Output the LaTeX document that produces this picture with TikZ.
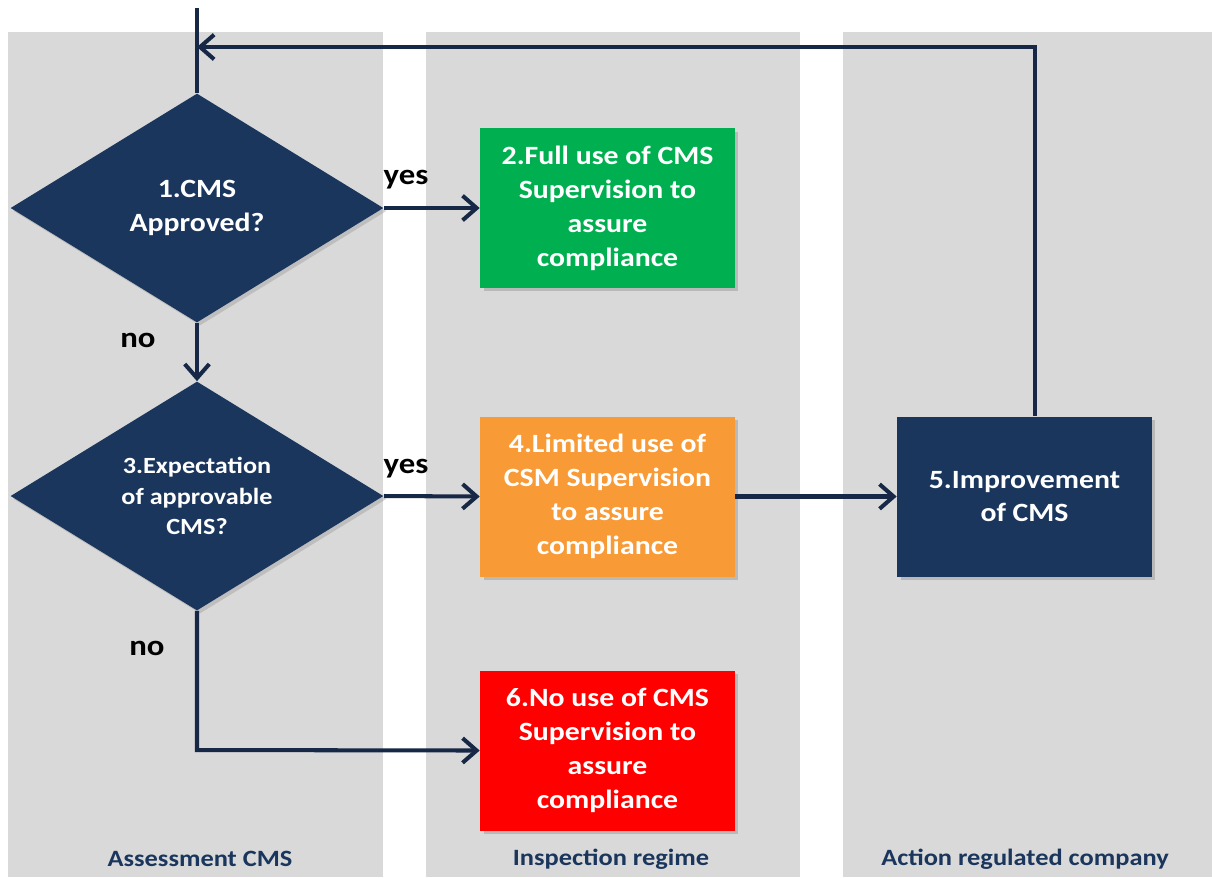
\documentclass[tikz,border=0pt]{standalone}
\usepackage{fontspec}
\setmainfont{Carlito}[FakeStretch=1.13]
\usetikzlibrary{shapes.geometric,arrows.meta,shadows}
\definecolor{navy}{RGB}{26,54,93}
\definecolor{linec}{RGB}{22,40,70}
\definecolor{lanec}{RGB}{217,217,217}
\definecolor{boxgreen}{RGB}{0,176,80}
\definecolor{boxorange}{RGB}{248,154,54}
\definecolor{boxred}{RGB}{255,0,0}
\tikzset{
  lane/.style={fill=lanec,draw=none},
  procbox/.style={draw=none,minimum width=5.1cm,minimum height=3.2cm,inner sep=2pt,
    align=center,text=white,font=\bfseries\fontsize{15}{19.3}\selectfont,
    drop shadow={shadow xshift=0.07cm,shadow yshift=-0.07cm,opacity=0.35}},
  decision/.style={diamond,draw=none,fill=navy,inner sep=0pt,minimum width=7.46cm,
    minimum height=4.58cm,align=center,text=white,
    drop shadow={shadow xshift=0.06cm,shadow yshift=-0.06cm,opacity=0.3}},
  conn/.style={draw=linec,line width=2.3pt,-{Straight Barb[length=8pt,width=14pt,line width=2.3pt]}},
  plainconn/.style={draw=linec,line width=2.3pt},
  lbl/.style={font=\bfseries\fontsize{16.5}{19}\selectfont,text=black},
  lanelbl/.style={font=\bfseries\fontsize{13.3}{16}\selectfont,text=navy}
}
\begin{document}
\begin{tikzpicture}[x=0.02cm,y=-0.02cm]
\useasboundingbox (0,0) rectangle (1212,877);
\fill[white] (0,0) rectangle (1212,877);
% lanes
\fill[lane] (8,32) rectangle (383,877);
\fill[lane] (426,32) rectangle (800,877);
\fill[lane] (843,32) rectangle (1212,877);
% lane labels
\node[lanelbl] (l1) at (200,859) {Assessment CMS};
\node[lanelbl] (l2) at (611,859) {Inspection regime};
\node[lanelbl] (l3) at (1025,859) {Action regulated company};
% decisions
\node[decision,font=\bfseries\fontsize{15}{19.8}\selectfont] (d1) at (197,208) {1.CMS\\Approved?};
\node[decision,font=\bfseries\fontsize{13.2}{17.5}\selectfont] (d3) at (197,496) {3.Expectation\\of approvable\\CMS?};
% boxes
\node[procbox,fill=boxgreen] (b2) at (607.5,208) {2.Full use of CMS\\Supervision to\\assure\\compliance};
\node[procbox,fill=boxorange] (b4) at (607.5,496.5) {4.Limited use of\\CSM Supervision\\to assure\\compliance};
\node[procbox,fill=boxred] (b6) at (607.5,750.5) {6.No use of CMS\\Supervision to\\assure\\compliance};
\node[procbox,fill=navy] (b5) at (1024.5,496.5) {5.Improvement\\of CMS};
% connectors
\coordinate (top) at (197,8);
\coordinate (join) at (197,47);
\coordinate (corner) at (1035,47);
\coordinate (bend) at (197,750);
\draw[plainconn] (top) -- (d1.north);
\draw[conn] (b5.north -| corner) -- (corner) -- (join);
\draw[conn] (d1.east) -- (b2.west);
\draw[conn] (d1.south) -- (d3.north);
\draw[conn] (d3.east) -- (b4.west);
\draw[conn] (b4.east) -- (b5.west);
\draw[conn] (d3.south) -- (bend) -- (b6.west);
% labels
\node[lbl] (y1) at (406,180) {yes};
\node[lbl] (y2) at (406,469) {yes};
\node[lbl] (n1) at (138,340) {no};
\node[lbl] (n2) at (147,648) {no};
\end{tikzpicture}
\end{document}
